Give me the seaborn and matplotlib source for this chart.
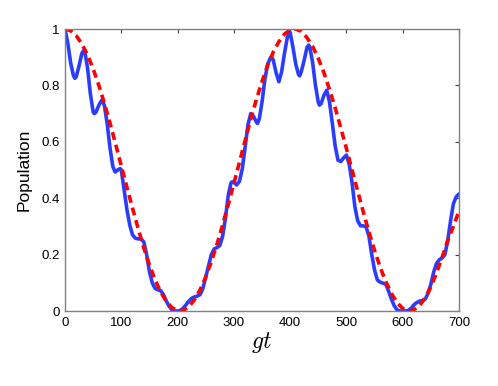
import numpy as np
import pandas as pd
import matplotlib
matplotlib.use("Agg")
import matplotlib.pyplot as plt
import seaborn as sns

# ---- data ----
blue_t = [0, 5, 10, 15, 17.5, 20, 25, 30, 33.5, 35, 40, 45, 50, 52, 55, 60, 65, 66,
          70, 75, 80, 85, 89, 90, 95, 98, 100, 105, 110, 115, 120, 125, 130, 135,
          140, 145, 150, 155, 160, 165, 170, 175, 180, 185, 190, 195, 200, 205,
          210, 215, 220, 225, 230, 235, 240, 245, 250, 255, 260, 265, 270, 275,
          280, 285, 290, 295, 297, 300, 305, 310, 315, 320, 325, 330, 335, 340,
          342, 345, 350, 355, 360, 365, 367, 370, 375, 380, 385, 390, 395, 399,
          400, 405, 410, 415, 417, 420, 425, 430, 433, 435, 440, 445, 450, 452,
          455, 460, 465, 470, 475, 480, 485, 490, 495, 500, 505, 510, 515, 520,
          525, 530, 535, 540, 545, 550, 555, 560, 565, 570, 575, 580, 585, 590,
          595, 600, 605, 610, 615, 620, 625, 630, 635, 640, 645, 650, 655, 660,
          665, 670, 675, 680, 685, 690, 695, 700]
blue_pop = [1.0, 0.95, 0.88, 0.835, 0.825, 0.831, 0.87, 0.914, 0.925, 0.921, 0.863,
            0.771, 0.706, 0.70, 0.705, 0.729, 0.747, 0.748,
            0.729, 0.663, 0.578, 0.512, 0.493, 0.494, 0.502, 0.505, 0.50, 0.43,
            0.36, 0.305, 0.27, 0.258, 0.256, 0.255,
            0.245, 0.20, 0.14, 0.10, 0.08, 0.075, 0.072, 0.058, 0.035, 0.017,
            0.004, 0.0, 0.0, 0.002,
            0.01, 0.022, 0.035, 0.045, 0.05, 0.053, 0.058, 0.08, 0.12, 0.16,
            0.20, 0.22, 0.225, 0.232,
            0.265, 0.328, 0.41, 0.455, 0.458, 0.456, 0.447, 0.46, 0.505, 0.58,
            0.66, 0.70, 0.69, 0.67,
            0.665, 0.68, 0.74, 0.82, 0.875, 0.898, 0.90, 0.89, 0.845, 0.813,
            0.85, 0.915, 0.97, 0.99,
            0.988, 0.935, 0.875, 0.838, 0.834, 0.85, 0.89, 0.935, 0.943, 0.935,
            0.88, 0.80, 0.74, 0.73,
            0.735, 0.765, 0.783, 0.74, 0.665, 0.585, 0.535, 0.53, 0.543, 0.553,
            0.52, 0.455, 0.37, 0.32,
            0.302, 0.302, 0.298, 0.265, 0.20, 0.145, 0.11, 0.102, 0.099, 0.095,
            0.07, 0.042, 0.018, 0.004,
            0.0, 0.0, 0.0, 0.002, 0.01, 0.022, 0.03, 0.035, 0.037, 0.042, 0.062,
            0.095, 0.138, 0.168,
            0.182, 0.188, 0.20, 0.25, 0.32, 0.38, 0.405, 0.415]

red_t = list(range(0, 701, 10))
red_pop = [1.0, 0.994, 0.976, 0.947, 0.908, 0.859, 0.801, 0.736, 0.666, 0.591,
           0.515, 0.439, 0.364, 0.292, 0.224, 0.163, 0.111, 0.067, 0.034, 0.012,
           0.001, 0.002, 0.015, 0.040, 0.075, 0.120, 0.175, 0.237, 0.305, 0.377,
           0.452, 0.528, 0.605, 0.680, 0.750, 0.814, 0.871, 0.918, 0.955, 0.982,
           0.997, 1.0, 0.991, 0.969, 0.938, 0.896, 0.845, 0.785, 0.720, 0.649,
           0.576, 0.500, 0.425, 0.351, 0.280, 0.215, 0.155, 0.104, 0.062, 0.030,
           0.009, 0.0, 0.004, 0.019, 0.048, 0.085, 0.135, 0.19, 0.25, 0.30, 0.355]

x_ticks = [0, 100, 200, 300, 400, 500, 600, 700]
y_ticks = [0, 0.2, 0.4, 0.6, 0.8, 1.0]
y_tick_labels = ["0", "0.2", "0.4", "0.6", "0.8", "1"]

sns.set_style("white")
plt.rcParams['font.family'] = ['Liberation Sans', 'DejaVu Sans']
plt.rcParams['mathtext.fontset'] = 'cm'
plt.rcParams['text.color'] = 'black'
plt.rcParams['axes.labelcolor'] = 'black'
plt.rcParams['xtick.color'] = 'black'
plt.rcParams['ytick.color'] = 'black'

fig = plt.figure(figsize=(4.98, 3.86), dpi=100)
ax = fig.add_axes([65 / 498, 75 / 386, 394 / 498, 282 / 386])

blue_df = pd.DataFrame({"t": blue_t, "pop": blue_pop})
red_df = pd.DataFrame({"t": red_t, "pop": red_pop})

sns.lineplot(data=blue_df, x="t", y="pop", ax=ax, color="#2a3dff",
             linewidth=2.6, estimator=None, sort=False)
sns.lineplot(data=red_df, x="t", y="pop", ax=ax, color="#ff0000",
             linewidth=2.6, estimator=None, sort=False)
ax.lines[-1].set_dashes([2.2, 1.4])

ax.set_xlim(0, 700)
ax.set_ylim(0, 1)
ax.set_xticks(x_ticks)
ax.set_xticklabels([str(v) for v in x_ticks])
ax.set_yticks(y_ticks)
ax.set_yticklabels(y_tick_labels)

for s in ax.spines.values():
    s.set_color("#808080")
    s.set_linewidth(1.0)
    s.set_visible(True)

ax.tick_params(direction="in", length=3, width=0.8, color="#404040",
               labelcolor="black", top=True, right=True, labelsize=9.5, pad=4)
ax.tick_params(axis="y", pad=4)

ax.set_xlabel(r"$gt$", fontsize=17, labelpad=1)
ax.set_ylabel("Population", fontsize=12.5, labelpad=7)

fig.savefig("out.png", dpi=100)
